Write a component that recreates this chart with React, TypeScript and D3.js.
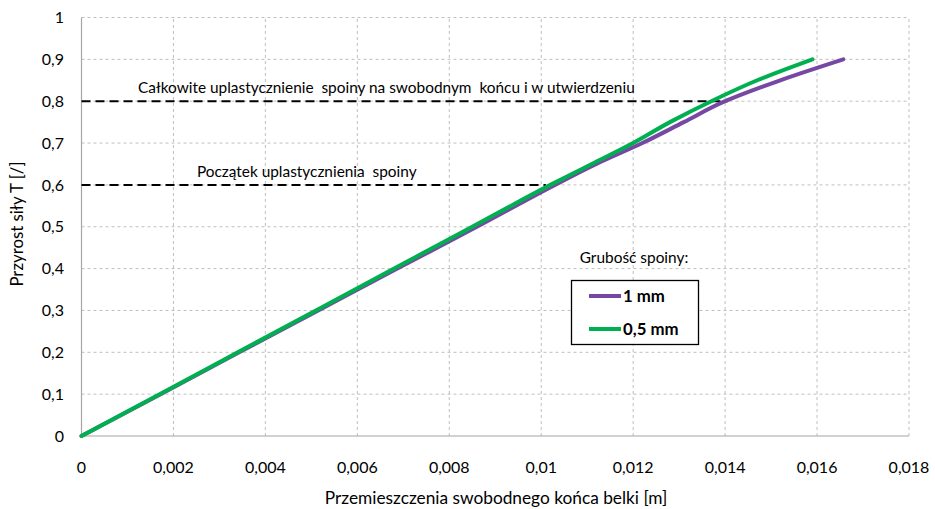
import * as d3 from "d3";

// Przyrost siły T [/] vs przemieszczenie [m]
const forceSteps = [0, 0.1, 0.2, 0.3, 0.4, 0.5, 0.6, 0.65, 0.7, 0.75, 0.8, 0.85, 0.9];
const disp1mm = [0, 0.00172, 0.00343, 0.00515, 0.00687, 0.0086, 0.0103, 0.0112, 0.0122, 0.0131, 0.0140, 0.0152, 0.01657];
const disp05mm = [0, 0.0017, 0.0034, 0.0051, 0.0068, 0.0085, 0.0102, 0.0111, 0.0120, 0.0128, 0.0137, 0.0147, 0.0159];

const xTicks = [0, 0.002, 0.004, 0.006, 0.008, 0.01, 0.012, 0.014, 0.016, 0.018];
const yTicks = [0, 0.1, 0.2, 0.3, 0.4, 0.5, 0.6, 0.7, 0.8, 0.9, 1];

const limitLines = [
  { y: 0.8, xEnd: 0.01406, label: "Całkowite uplastycznienie  spoiny na swobodnym  końcu i w utwierdzeniu", xLabel: 0.00123 },
  { y: 0.6, xEnd: 0.0101, label: "Początek uplastycznienia  spoiny", xLabel: 0.00251 },
];

const series = [
  { name: "1 mm", color: "#7648a3", x: disp1mm },
  { name: "0,5 mm", color: "#00b050", x: disp05mm },
];

const fmt = (v: number) => String(+v.toFixed(3)).replace(".", ",");
const FONT = "Lato, 'Open Sans', sans-serif";

export default function App() {
  const W = 935, H = 509;
  const x = d3.scaleLinear().domain([0, 0.018]).range([81.5, 909]);
  const y = d3.scaleLinear().domain([0, 1]).range([436, 17.5]);

  const line = d3
    .line<[number, number]>()
    .x((d) => x(d[0]))
    .y((d) => y(d[1]))
    .curve(d3.curveMonotoneY);

  return (
    <svg width={W} height={H} style={{ position: "absolute", left: 0, top: 0, background: "#fff" }} fontFamily={FONT}>
      {/* grid */}
      {xTicks.slice(1).map((t) => (
        <line key={"gx" + t} x1={x(t)} x2={x(t)} y1={y(0)} y2={y(1)} stroke="#bfbfbf" strokeDasharray="3,3" />
      ))}
      {yTicks.slice(1).map((t) => (
        <line key={"gy" + t} x1={x(0)} x2={x(0.018)} y1={y(t)} y2={y(t)} stroke="#bfbfbf" strokeDasharray="3,3" />
      ))}
      {/* axes */}
      <line x1={x(0)} x2={x(0)} y1={y(0)} y2={y(1)} stroke="#a6a6a6" strokeWidth={1.2} />
      <line x1={x(0)} x2={x(0.018)} y1={y(0)} y2={y(0)} stroke="#a6a6a6" strokeWidth={1.2} />

      {yTicks.map((t) => (
        <text key={"ty" + t} x={64} y={y(t)} dy="0.35em" textAnchor="end" fontSize={16} fill="#000">
          {fmt(t)}
        </text>
      ))}
      {xTicks.map((t) => (
        <text key={"tx" + t} x={x(t)} y={473} textAnchor="middle" fontSize={16} fill="#000">
          {fmt(t)}
        </text>
      ))}

      <text x={496} y={504} textAnchor="middle" fontSize={17.3} fill="#000">
        Przemieszczenia swobodnego końca belki [m]
      </text>
      <text transform={`translate(23,${224}) rotate(-90)`} textAnchor="middle" fontSize={16.8} fill="#000">
        Przyrost siły T [/]
      </text>

      {/* limit lines */}
      {limitLines.map((l) => (
        <g key={l.label}>
          <line x1={x(0)} x2={x(l.xEnd)} y1={y(l.y)} y2={y(l.y)} stroke="#000" strokeWidth={2} strokeDasharray="9,5" />
          <text x={x(l.xLabel)} y={y(l.y) - 8} fontSize={15.4} fill="#000" style={{ whiteSpace: "pre" }}>
            {l.label}
          </text>
        </g>
      ))}

      {/* series */}
      {series.map((s) => (
        <path
          key={s.name}
          d={line(s.x.map((v, i) => [v, forceSteps[i]] as [number, number])) || ""}
          fill="none"
          stroke={s.color}
          strokeWidth={4}
          strokeLinejoin="round"
          strokeLinecap="round"
        />
      ))}

      {/* legend */}
      <text x={634} y={263} textAnchor="middle" fontSize={15.4} fill="#000">
        Grubość spoiny:
      </text>
      <rect x={571.5} y={280.5} width={127} height={64} fill="#fff" stroke="#000" strokeWidth={1.3} />
      {series.map((s, i) => (
        <g key={"lg" + s.name} transform={`translate(0,${296 + i * 33})`}>
          <line x1={589} x2={621} y1={0} y2={0} stroke={s.color} strokeWidth={4} />
          <text x={623} y={0} dy="0.35em" fontSize={16.8} fontWeight="bold" fill="#000">
            {s.name}
          </text>
        </g>
      ))}
    </svg>
  );
}
